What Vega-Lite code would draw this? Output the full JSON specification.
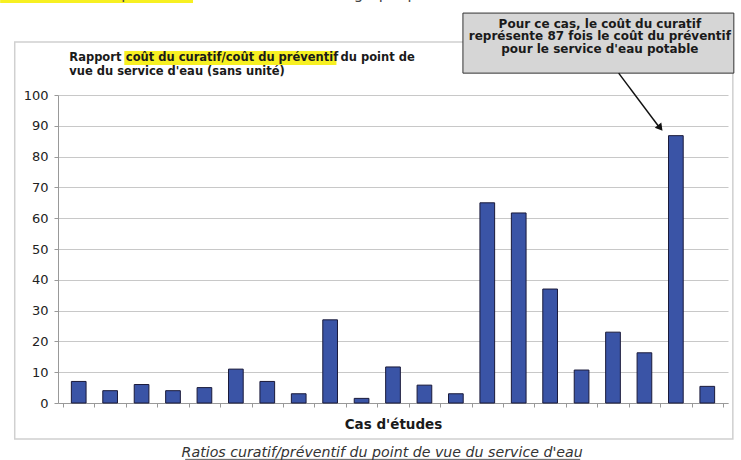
{
  "$schema": "https://vega.github.io/schema/vega-lite/v6.json",
  "width": 670,
  "height": 308,
  "autosize": {"type": "none"},
  "padding": {"left": 58, "top": 95, "right": 13, "bottom": 57},
  "background": "white",
  "config": {
    "view": {"stroke": null},
    "font": "DejaVu Sans"
  },
  "resolve": {"axis": {"x": "independent", "y": "independent"}},
  "data": {
    "values": [
      {"cas": 1, "ratio": 7},
      {"cas": 2, "ratio": 4},
      {"cas": 3, "ratio": 6},
      {"cas": 4, "ratio": 4},
      {"cas": 5, "ratio": 5},
      {"cas": 6, "ratio": 11},
      {"cas": 7, "ratio": 7},
      {"cas": 8, "ratio": 3},
      {"cas": 9, "ratio": 27},
      {"cas": 10, "ratio": 1.5},
      {"cas": 11, "ratio": 11.7},
      {"cas": 12, "ratio": 5.8},
      {"cas": 13, "ratio": 3},
      {"cas": 14, "ratio": 65},
      {"cas": 15, "ratio": 61.7},
      {"cas": 16, "ratio": 37},
      {"cas": 17, "ratio": 10.7},
      {"cas": 18, "ratio": 23},
      {"cas": 19, "ratio": 16.3},
      {"cas": 20, "ratio": 86.8},
      {"cas": 21, "ratio": 5.4}
    ]
  },
  "layer": [
    {
      "mark": {"type": "bar", "width": 14.7, "fill": "#3a54a6", "stroke": "#1a1a3a", "strokeWidth": 1},
      "encoding": {
        "x": {
          "field": "cas",
          "type": "quantitative",
          "scale": {"domain": [0.5, 21.5], "nice": false, "zero": false},
          "axis": {
            "values": [0.5, 1.5, 2.5, 3.5, 4.5, 5.5, 6.5, 7.5, 8.5, 9.5, 10.5, 11.5, 12.5, 13.5, 14.5, 15.5, 16.5, 17.5, 18.5, 19.5, 20.5, 21.5],
            "labels": false,
            "grid": false,
            "ticks": true,
            "tickSize": 4,
            "tickColor": "#999",
            "domainColor": "#999",
            "title": "Cas d'études",
            "titleFont": "DejaVu Sans",
            "titleFontSize": 13.5,
            "titleFontWeight": "bold",
            "titleColor": "#1a1a1a",
            "titlePadding": 10
          }
        },
        "y": {
          "field": "ratio",
          "type": "quantitative",
          "scale": {"domain": [0, 100], "nice": false},
          "axis": {
            "values": [0, 10, 20, 30, 40, 50, 60, 70, 80, 90, 100],
            "labelOverlap": false,
            "title": null,
            "grid": true,
            "gridColor": "#c8c8c8",
            "domainColor": "#999",
            "tickColor": "#999",
            "tickSize": 4,
            "labelFont": "DejaVu Sans",
            "labelFontSize": 13,
            "labelColor": "#222",
            "labelPadding": 6
          }
        }
      }
    },
    {
      "data": {"values": [{}]},
      "mark": {"type": "rect", "fill": null, "stroke": "#d0d0d0", "strokeWidth": 1.5},
      "encoding": {
        "x": {"datum": -1.036, "axis": null}, "x2": {"datum": 21.813},
        "y": {"datum": 117.2, "axis": null}, "y2": {"datum": -11.69}
      }
    },
    {
      "data": {"values": [{}]},
      "mark": {"type": "rect", "fill": "#f7f022"},
      "encoding": {
        "x": {"datum": -1.5, "axis": null}, "x2": {"datum": 4.637},
        "y": {"datum": 132.5, "axis": null}, "y2": {"datum": 129.87}
      }
    },
    {
      "data": {"values": [{}]},
      "mark": {"type": "text", "text": "celui du préventif", "align": "right", "baseline": "alphabetic", "fontSize": 15, "color": "#444"},
      "encoding": {"x": {"datum": 4.5, "axis": null}, "y": {"datum": 131.2, "axis": null}}
    },
    {
      "data": {"values": [{}]},
      "mark": {"type": "text", "text": "comme le montre le graphique suivant :", "align": "left", "baseline": "alphabetic", "fontSize": 15, "color": "#444"},
      "encoding": {"x": {"datum": 4.79, "axis": null}, "y": {"datum": 131.2, "axis": null}}
    },
    {
      "data": {"values": [{}]},
      "mark": {"type": "rect", "fill": "#f7f022"},
      "encoding": {
        "x": {"datum": 2.45, "axis": null}, "x2": {"datum": 9.2},
        "y": {"datum": 114.3, "axis": null}, "y2": {"datum": 109.7}
      }
    },
    {
      "data": {"values": [{}]},
      "mark": {"type": "text", "text": "Rapport", "align": "left", "baseline": "middle", "fontSize": 11.5, "fontWeight": "bold", "color": "#1a1a1a"},
      "encoding": {"x": {"datum": 0.70, "axis": null}, "y": {"datum": 112.0, "axis": null}}
    },
    {
      "data": {"values": [{}]},
      "mark": {"type": "text", "text": "coût du curatif/coût du préventif", "align": "left", "baseline": "middle", "fontSize": 11.5, "fontWeight": "bold", "color": "#1a1a1a"},
      "encoding": {"x": {"datum": 2.50, "axis": null}, "y": {"datum": 112.0, "axis": null}}
    },
    {
      "data": {"values": [{}]},
      "mark": {"type": "text", "text": "du point de", "align": "left", "baseline": "middle", "fontSize": 11.5, "fontWeight": "bold", "color": "#1a1a1a"},
      "encoding": {"x": {"datum": 9.33, "axis": null}, "y": {"datum": 112.0, "axis": null}}
    },
    {
      "data": {"values": [{}]},
      "mark": {"type": "text", "text": "vue du service d'eau (sans unité)", "align": "left", "baseline": "middle", "fontSize": 11.5, "fontWeight": "bold", "color": "#1a1a1a"},
      "encoding": {"x": {"datum": 0.70, "axis": null}, "y": {"datum": 107.5, "axis": null}}
    },
    {
      "data": {"values": [{}]},
      "mark": {"type": "rect", "fill": "#d6d6d6", "stroke": "#333", "strokeWidth": 1},
      "encoding": {
        "x": {"datum": 13.225, "axis": null}, "x2": {"datum": 21.845},
        "y": {"datum": 126.6, "axis": null}, "y2": {"datum": 107.1}
      }
    },
    {
      "data": {"values": [{}]},
      "mark": {"type": "text", "text": "Pour ce cas, le coût du curatif", "align": "center", "baseline": "middle", "fontSize": 12, "fontWeight": "bold", "color": "#1a1a1a"},
      "encoding": {"x": {"datum": 17.582, "axis": null}, "y": {"datum": 123.05, "axis": null}}
    },
    {
      "data": {"values": [{}]},
      "mark": {"type": "text", "text": "représente 87 fois le coût du préventif", "align": "center", "baseline": "middle", "fontSize": 12, "fontWeight": "bold", "color": "#1a1a1a"},
      "encoding": {"x": {"datum": 17.582, "axis": null}, "y": {"datum": 119.0, "axis": null}}
    },
    {
      "data": {"values": [{}]},
      "mark": {"type": "text", "text": "pour le service d'eau potable", "align": "center", "baseline": "middle", "fontSize": 12, "fontWeight": "bold", "color": "#1a1a1a"},
      "encoding": {"x": {"datum": 17.582, "axis": null}, "y": {"datum": 114.94, "axis": null}}
    },
    {
      "data": {"values": [{}]},
      "mark": {"type": "rule", "stroke": "#111", "strokeWidth": 1.5},
      "encoding": {
        "x": {"datum": 18.18, "axis": null}, "y": {"datum": 107.1, "axis": null},
        "x2": {"datum": 19.49}, "y2": {"datum": 89.3}
      }
    },
    {
      "data": {"values": [{}]},
      "mark": {"type": "point", "shape": "triangle", "filled": true, "fill": "#111", "size": 70, "angle": 142, "opacity": 1},
      "encoding": {"x": {"datum": 19.48, "axis": null}, "y": {"datum": 89.6, "axis": null}}
    },
    {
      "data": {"values": [{}]},
      "mark": {"type": "text", "text": "Ratios curatif/préventif du point de vue du service d'eau", "align": "center", "baseline": "alphabetic", "fontSize": 14.2, "fontStyle": "italic", "color": "#333"},
      "encoding": {"x": {"datum": 10.655, "axis": null}, "y": {"datum": -17.53, "axis": null}}
    },
    {
      "data": {"values": [{}]},
      "mark": {"type": "rule", "stroke": "#333", "strokeWidth": 0.8},
      "encoding": {
        "x": {"datum": 4.387, "axis": null}, "x2": {"datum": 16.955},
        "y": {"datum": -18.3, "axis": null}
      }
    }
  ]
}
